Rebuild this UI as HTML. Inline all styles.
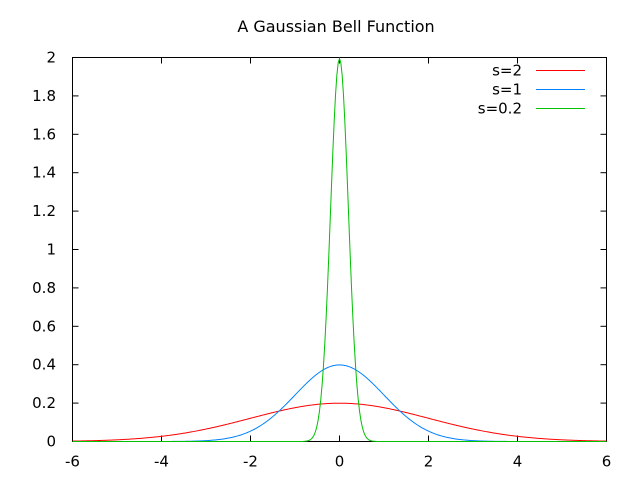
<!DOCTYPE html>
<html><head><meta charset="utf-8"><style>
html,body{margin:0;padding:0;background:#fff;}
svg{display:block;font-family:"DejaVu Sans","Liberation Sans",sans-serif;}
</style></head><body>
<svg id="chart" width="640" height="480" viewBox="0 0 640 480" xmlns="http://www.w3.org/2000/svg">
<rect width="640" height="480" fill="#fff"/>
<text x="336" y="32" font-size="16" text-anchor="middle">A Gaussian Bell Function</text>
<g id="axes"></g>
<g id="series"></g>
<g id="legend"></g>
</svg>
<script>
const xTicks = [-6, -4, -2, 0, 2, 4, 6];
const yTicks = [0, 0.2, 0.4, 0.6, 0.8, 1, 1.2, 1.4, 1.6, 1.8, 2];
const seriesLabels = ["s=2", "s=1", "s=0.2"];
const seriesSigmas = [2, 1, 0.2];
const seriesColors = ["#ff0000", "#0080ff", "#00c000"];

const L = 72.5, R = 606.5, T = 57.5, B = 441.5;
const xMin = -6, xMax = 6, yMin = 0, yMax = 2;
const sx = v => L + (v - xMin) / (xMax - xMin) * (R - L);
const sy = v => B - (v - yMin) / (yMax - yMin) * (B - T);
const NS = "http://www.w3.org/2000/svg";
function mk(tag, attrs, parent) {
  const e = document.createElementNS(NS, tag);
  for (const k in attrs) e.setAttribute(k, attrs[k]);
  parent.appendChild(e);
  return e;
}
const axes = document.getElementById('axes');
const frame = mk('rect', {x: L, y: T, width: R - L, height: B - T, fill: 'none', stroke: '#000', 'stroke-width': 1}, axes);


xTicks.forEach(v => {
  const x = sx(v);
  mk('line', {x1: x, y1: B, x2: x, y2: B - 6, stroke: '#000'}, axes);
  mk('line', {x1: x, y1: T, x2: x, y2: T + 6, stroke: '#000'}, axes);
  const t = mk('text', {x: x, y: B + 25, 'font-size': 15, 'text-anchor': 'middle'}, axes);
  t.textContent = String(v);
  
  
});
yTicks.forEach(v => {
  const y = sy(v);
  mk('line', {x1: L, y1: y, x2: L + 6, y2: y, stroke: '#000'}, axes);
  mk('line', {x1: R, y1: y, x2: R - 6, y2: y, stroke: '#000'}, axes);
  const t = mk('text', {x: 56, y: y + 5, 'font-size': 15, 'text-anchor': 'end'}, axes);
  t.textContent = String(v);
  
  
});
const series = document.getElementById('series');
const legend = document.getElementById('legend');
seriesSigmas.forEach((s, i) => {
  let d = '';
  const N = 400;
  for (let k = 0; k <= N; k++) {
    const xv = xMin + (xMax - xMin) * k / N;
    const yv = Math.exp(-xv * xv / (2 * s * s)) / (s * Math.sqrt(2 * Math.PI));
    d += (k ? 'L' : 'M') + sx(xv).toFixed(2) + ' ' + sy(yv).toFixed(2);
  }
  const p = mk('path', {d: d, fill: 'none', stroke: seriesColors[i], 'stroke-width': 1}, series);
  
  
  const ly = 70.5 + i * 19;
  const lt = mk('text', {x: 522, y: ly + 5, 'font-size': 15, 'text-anchor': 'end'}, legend);
  lt.textContent = seriesLabels[i];
  
  
  const ll = mk('line', {x1: 536, y1: ly, x2: 585, y2: ly, stroke: seriesColors[i]}, legend);
  
  
});
</script>
</body></html>
